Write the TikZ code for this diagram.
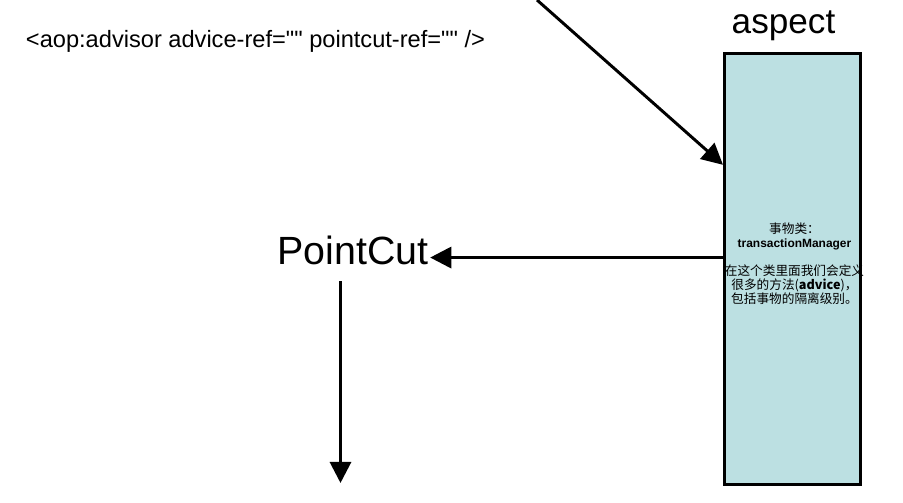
\documentclass[tikz,border=0pt]{standalone}
\usepackage{fontspec}
\setmainfont{Liberation Sans}
\newfontfamily\plainsans{Liberation Sans}
\newfontfamily\cjk{Noto Sans CJK SC}
\usetikzlibrary{arrows.meta,calc}
\definecolor{aspectcyan}{RGB}{188,224,226}

\begin{document}
\begin{tikzpicture}[x=0.025cm,y=-0.025cm,
  flow/.style={line width=2.1pt,-{Triangle[length=15pt,width=15pt]}}]
  \useasboundingbox (0,0) rectangle (903,503);

  \node[draw,line width=2.1pt,fill=aspectcyan,minimum width=3.4cm,minimum height=10.775cm] (aspectbox) at (792.5,269) {};
  \node[anchor=base,font=\fontsize{25}{28}\selectfont] (aspectlabel) at (783.5,34) {aspect};
  \node[align=center,font=\fontsize{9}{10}\selectfont,inner sep=0pt] (aspecttext) at (794.5,263.5)
    {{\cjk 事物类：}\\
     {\bfseries\fontsize{8.5}{10}\selectfont transactionManager}\\[10pt]
     {\cjk 在这个类里面我们会定义}\\
     {\cjk 很多的方法(\textbf{advice})，}\\
     {\cjk 包括事物的隔离级别。}};

  \node[anchor=base west,font=\plainsans\fontsize{16.8}{20}\selectfont] (advisor) at (21,48) {<aop:advisor advice-ref="" pointcut-ref="" />};
  \node[anchor=base,font=\fontsize{28}{30}\selectfont,inner sep=1pt] (pointcut) at (353,265) {PointCut};

  \coordinate (advisorfrom) at (537,0);
  \coordinate (cutdown) at (340.5,483);
  \coordinate (cutin) at ($(pointcut.mid east)!0.36!(pointcut.east)$);

  \draw[flow] (advisorfrom) -- ($(aspectbox.north west)!0.26!(aspectbox.south west)$);
  \draw[flow] (aspectbox.west |- cutin) -- (cutin);
  \draw[flow,shorten <=10pt] (pointcut.south -| cutdown) -- (cutdown);
\end{tikzpicture}
\end{document}
